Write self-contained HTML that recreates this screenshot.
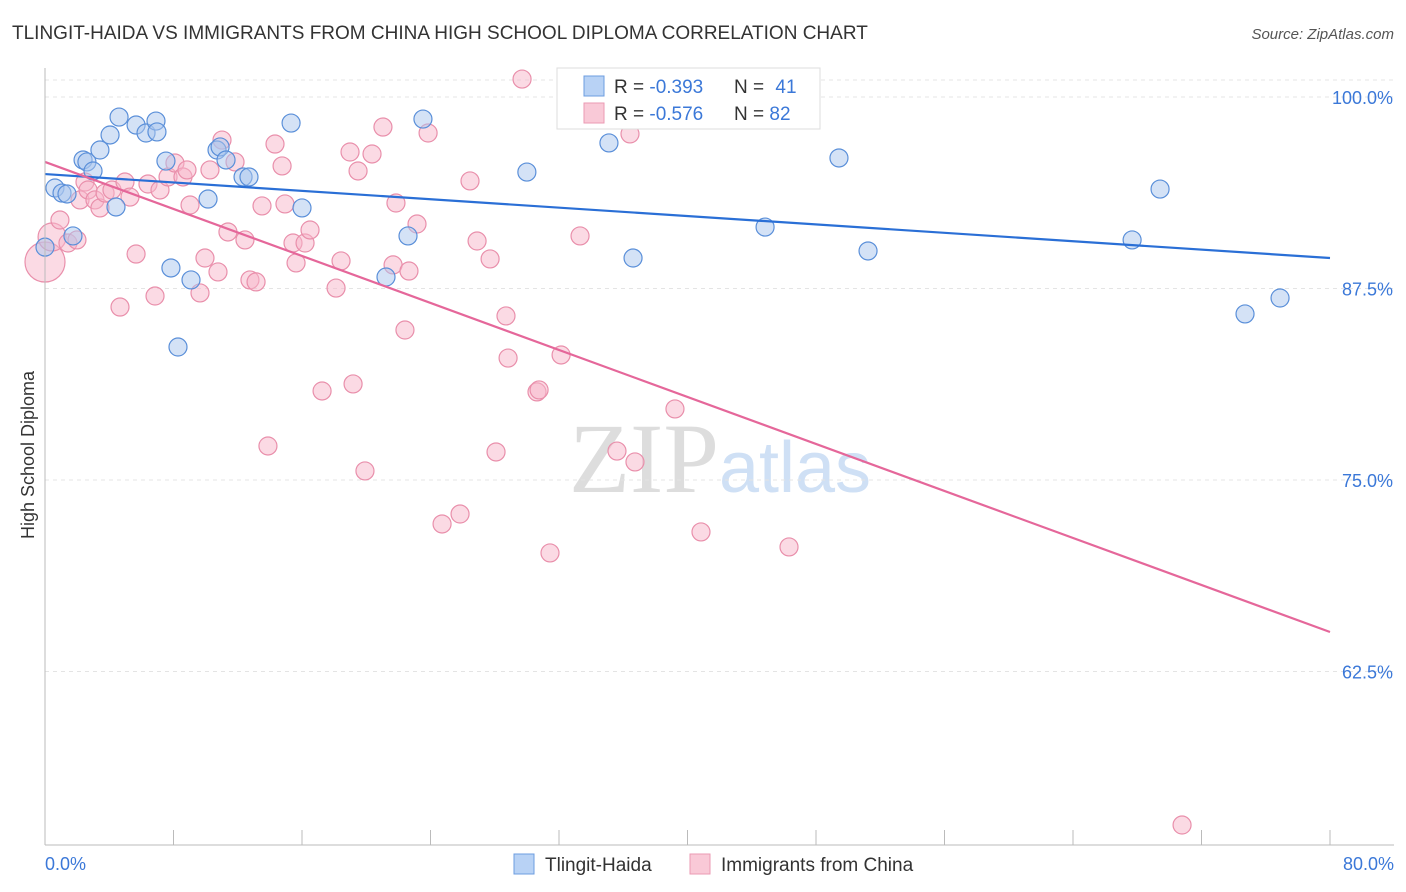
<!DOCTYPE html>
<html><head><meta charset="utf-8"><style>
body{margin:0;background:#fff;font-family:"Liberation Sans",sans-serif;}
svg{display:block}
</style></head><body>
<svg id="c" width="1406" height="892">
<text x="12" y="39" font-size="19" fill="#333">TLINGIT-HAIDA VS IMMIGRANTS FROM CHINA HIGH SCHOOL DIPLOMA CORRELATION CHART</text>
<text x="1394" y="39" font-size="15" fill="#555" text-anchor="end" font-style="italic">Source: ZipAtlas.com</text>
<text x="0" y="0" font-size="18" fill="#333" transform="translate(34,455) rotate(-90)" text-anchor="middle">High School Diploma</text>
<text x="720" y="492" font-size="100" fill="#ddd" text-anchor="middle" font-family="Liberation Serif,serif">ZIP<tspan fill="#cfe0f5" font-family="Liberation Sans,sans-serif" font-size="72">atlas</tspan></text>
<g id="grid"></g><g id="pts"></g><g id="lines"></g>
<line x1="45" y1="68" x2="45" y2="845" stroke="#bbb"/>
<line x1="45" y1="845" x2="1394" y2="845" stroke="#bbb"/>
<text x="45" y="870" font-size="18" fill="#3b78d8">0.0%</text>
<text x="1394" y="870" font-size="18" fill="#3b78d8" text-anchor="end">80.0%</text>
<g>
<rect x="557" y="68" width="263" height="61" fill="#fff" stroke="#ddd"/>
<rect x="584" y="76" width="20" height="20" fill="#b8d2f5" stroke="#6c9de0"/>
<rect x="584" y="103" width="20" height="20" fill="#f9c9d7" stroke="#eb9ab3"/>
<text x="614" y="93" font-size="19" fill="#333">R = <tspan fill="#3b78d8">-0.393</tspan></text>
<text x="734" y="93" font-size="19" fill="#333">N = <tspan fill="#3b78d8" dx="6">41</tspan></text>
<text x="614" y="120" font-size="19" fill="#333">R = <tspan fill="#3b78d8">-0.576</tspan></text>
<text x="734" y="120" font-size="19" fill="#333">N = <tspan fill="#3b78d8">82</tspan></text>
</g>
<g>
<rect x="514" y="854" width="20" height="20" fill="#b8d2f5" stroke="#6c9de0"/>
<text x="545" y="871" font-size="19" fill="#333">Tlingit-Haida</text>
<rect x="690" y="854" width="20" height="20" fill="#f9c9d7" stroke="#eb9ab3"/>
<text x="721" y="871" font-size="19" fill="#333">Immigrants from China</text>
</g>
</svg>
<script>
const yTicks=[100,87.5,75,62.5];
const yTickLabels=["100.0%","87.5%","75.0%","62.5%"];
const xTicks=[0,8,16,24,32,40,48,56,64,72,80];
const blueX=[0,0.62,1.06,1.37,1.74,2.37,2.61,2.99,3.42,4.05,4.42,4.61,5.67,6.29,6.91,6.97,7.53,7.84,8.28,9.09,10.15,10.71,10.9,11.27,12.33,12.7,15.32,16,21.23,22.6,23.53,30,35.11,36.61,44.83,49.43,51.24,67.68,69.42,74.71,76.89];
const blueY=[90.2,94.06,93.73,93.67,90.93,95.89,95.76,95.17,96.54,97.52,92.82,98.69,98.17,97.65,98.43,97.72,95.82,88.84,83.68,88.06,93.34,96.54,96.74,95.89,94.78,94.78,98.3,92.76,88.25,90.93,98.56,95.1,97,89.49,91.51,96.02,89.95,90.67,93.99,85.84,86.88];
const pinkX=[0,0.44,0.93,1.43,1.99,2.49,2.18,2.68,3.11,3.42,3.74,4.17,4.67,4.98,5.29,5.67,6.41,6.85,7.16,7.66,8.09,8.59,8.84,9.03,9.65,9.96,10.27,10.77,11.02,11.39,11.83,12.45,12.76,13.14,13.51,13.88,14.32,14.76,14.94,15.44,15.63,16.19,16.5,17.25,18.12,18.43,18.99,19.18,19.49,19.92,20.36,21.04,21.67,21.85,22.41,22.66,23.16,23.85,24.72,25.84,26.46,26.9,27.71,28.08,28.7,28.83,29.7,30.63,30.76,31.44,32.13,32.87,33.31,35.61,36.42,36.73,39.22,40.84,46.32,70.79];
const pinkY=[89.23,90.86,91.97,90.47,90.67,94.45,93.28,93.93,93.28,92.76,93.73,93.93,86.29,94.45,93.47,89.75,94.32,87.01,93.93,94.78,95.69,94.78,95.24,92.95,87.21,89.49,95.24,88.58,97.19,91.19,95.76,90.67,88.06,87.93,92.89,77.22,96.93,95.5,93.02,90.47,89.17,90.47,91.32,80.81,87.53,89.3,96.41,81.27,95.17,75.59,96.28,98.04,89.04,93.08,84.79,88.64,91.71,97.65,72.13,72.78,94.52,90.6,89.43,76.83,85.71,82.96,101.17,80.75,80.88,70.24,83.16,101.17,90.93,76.89,97.59,76.18,79.64,71.61,70.63,52.48];
const blueLine=[94.97,89.49];
const pinkLine=[95.76,65.08];
const NS="http://www.w3.org/2000/svg";
const X=v=>45+v/80*1285;
const Y=v=>97+(100-v)/12.5*191.5;
function mk(t,a,p){const e=document.createElementNS(NS,t);for(const k in a)e.setAttribute(k,a[k]);p.appendChild(e);return e;}
const gridG=document.getElementById('grid');
const topLine=mk('line',{x1:45,y1:80,x2:1394,y2:80,stroke:'#e4e4e4','stroke-dasharray':'4,4'},gridG);


yTicks.forEach((t,i)=>{
 const l=mk('line',{x1:45,y1:Y(t),x2:1394,y2:Y(t),stroke:'#e4e4e4','stroke-dasharray':'4,4'},gridG);
 
 
 const tx=mk('text',{x:1393,y:Y(t)+7,'font-size':18,fill:'#3b78d8','text-anchor':'end'},gridG);
 tx.textContent=yTickLabels[i];
 
 
});
xTicks.forEach(t=>{
 const l=mk('line',{x1:X(t),y1:830,x2:X(t),y2:845,stroke:'#bbb'},gridG);
 
 
});
const ptsG=document.getElementById('pts');
function dots(xs,ys,fill,stroke,name){xs.forEach((x,i)=>{
 let r=9; if(name==='pink-point'&&i===0)r=20; if(name==='pink-point'&&i===1)r=14;
 const c=mk('circle',{cx:X(x),cy:Y(ys[i]),r:r,fill:fill,'fill-opacity':0.5,stroke:stroke,'stroke-width':1.2},ptsG);
 
 
});}
dots(pinkX,pinkY,'#f7b6c9','#e98fab','pink-point');
dots(blueX,blueY,'#a9c6ee','#5a8fd9','blue-point');
const linesG=document.getElementById('lines');
const bl=mk('line',{x1:X(0),y1:Y(blueLine[0]),x2:X(80),y2:Y(blueLine[1]),stroke:'#2a6fd6','stroke-width':2.2},linesG);


const pl=mk('line',{x1:X(0),y1:Y(pinkLine[0]),x2:X(80),y2:Y(pinkLine[1]),stroke:'#e5679a','stroke-width':2.2},linesG);


</script>
</body></html>
